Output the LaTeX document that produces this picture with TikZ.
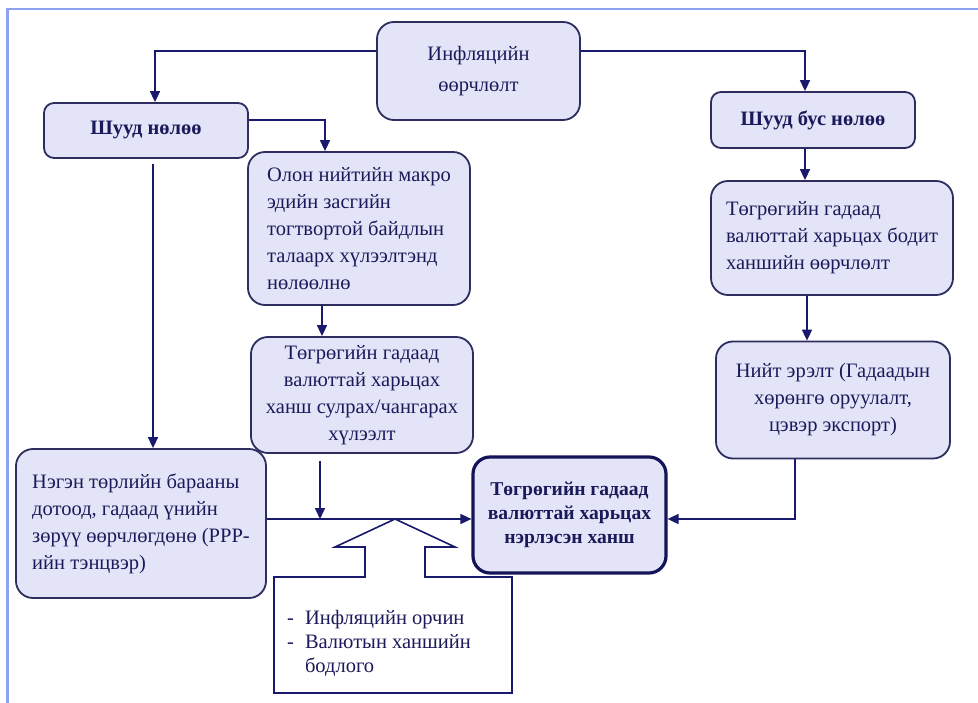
\documentclass[tikz,border=0pt]{standalone}
\usepackage{fontspec}
\setmainfont{Liberation Serif}
\usetikzlibrary{arrows.meta}
\definecolor{boxfill}{RGB}{228,228,248}
\definecolor{boxline}{RGB}{45,45,95}
\definecolor{txt}{RGB}{26,26,90}
\definecolor{arrc}{RGB}{25,25,110}
\definecolor{framec}{RGB}{140,162,240}
\begin{document}
\begin{tikzpicture}[x=1pt,y=-1pt,
  box/.style={draw=boxline, line width=1.8pt, fill=boxfill, rounded corners=17pt,
    text=txt, font=\fontsize{20.5}{27}\selectfont, align=center, inner sep=0pt},
  smallbox/.style={box, rounded corners=10pt, font=\bfseries\fontsize{20.5}{24}\selectfont},
  nombox/.style={box, draw=arrc!80!black, line width=3.2pt, font=\bfseries\fontsize{19.6}{24}\selectfont},
  conn/.style={draw=arrc, line width=1.6pt},
  arr/.style={conn, -{Triangle[width=10pt,length=11pt]}},
  callout/.style={draw=arrc, line width=1.6pt, fill=white},
]
\useasboundingbox (0,0) rectangle (978,703);
\fill[white] (0,0) rectangle (978,703);
% frame
\draw[framec, line width=2.6pt] (7.5,703) -- (7.5,9) -- (978,9);

% nodes
\node[box, minimum width=203pt, minimum height=98pt, font=\fontsize{20.5}{31}\selectfont] (infl) at (478.5,71) {Инфляцийн\\өөрчлөлт};
\node[smallbox, minimum width=204pt, minimum height=55pt] (direct) at (146,130.5) {Шууд нөлөө};
\node[smallbox, minimum width=204pt, minimum height=56pt] (indirect) at (813,120) {Шууд бус нөлөө};
\node[box, minimum width=222pt, minimum height=153pt, align=left] (olon) at (359,228.5)
  {Олон нийтийн макро\\эдийн засгийн\\тогтвортой байдлын\\талаарх хүлээлтэнд\\нөлөөлнө};
\node[box, minimum width=222pt, minimum height=116pt] (mid) at (362,395)
  {Төгрөгийн гадаад\\валюттай харьцах\\ханш сулрах/чангарах\\хүлээлт};
\node[box, minimum width=242pt, minimum height=114pt, align=left] (bodit) at (832,238)
  {Төгрөгийн гадаад\\валюттай харьцах бодит\\ханшийн өөрчлөлт};
\node[box, minimum width=234pt, minimum height=117pt] (aggr) at (833,400)
  {Нийт эрэлт (Гадаадын\\хөрөнгө оруулалт,\\цэвэр экспорт)};
\node[box, minimum width=250pt, minimum height=149pt, align=left] (neg) at (141,523.5)
  {Нэгэн төрлийн барааны\\дотоод, гадаад үнийн\\зөрүү өөрчлөгдөнө (PPP-\\ийн тэнцвэр)};
\node[nombox, minimum width=193pt, minimum height=116pt] (nom) at (569.5,515)
  {Төгрөгийн гадаад\\валюттай харьцах\\нэрлэсэн ханш};

% callout shape
\draw[callout] (274,693) -- (274,577) -- (365,577) -- (365,547) -- (335,547) -- (395,519)
  -- (455,547) -- (425,547) -- (425,577) -- (512,577) -- (512,693) -- cycle;
\node[anchor=north west, inner sep=0pt, text=txt, font=\fontsize{20.5}{24}\selectfont] (env) at (287,607)
  {\begin{tabular}{@{}l@{\hspace{11pt}}l@{}}-&Инфляцийн орчин\\-&Валютын ханшийн\\&бодлого\end{tabular}};

% connectors
\draw[arr] (infl.west |- 0,51) -| (155,0 |- direct.north);
\draw[arr] (infl.east |- 0,51) -| (805,0 |- indirect.north);
\draw[arr] (direct.east |- 0,120) -| (325,0 |- olon.north);
\draw[arr, shorten <=5pt] (153,0 |- direct.south) -- (153,0 |- neg.north);
\draw[arr] (322,0 |- olon.south) -- (322,0 |- mid.north);
\coordinate (join) at (320,519);
\draw[arr, shorten <=7pt] (320,0 |- mid.south) -- (join);
\draw[arr] (neg.east |- join) -- (nom.west |- join);
\draw[arr] (805,0 |- indirect.south) -- (805,0 |- bodit.north);
\draw[arr] (807,0 |- bodit.south) -- (807,0 |- aggr.north);
\draw[arr] (795,0 |- aggr.south) |- (nom.east |- join);
\end{tikzpicture}
\end{document}
